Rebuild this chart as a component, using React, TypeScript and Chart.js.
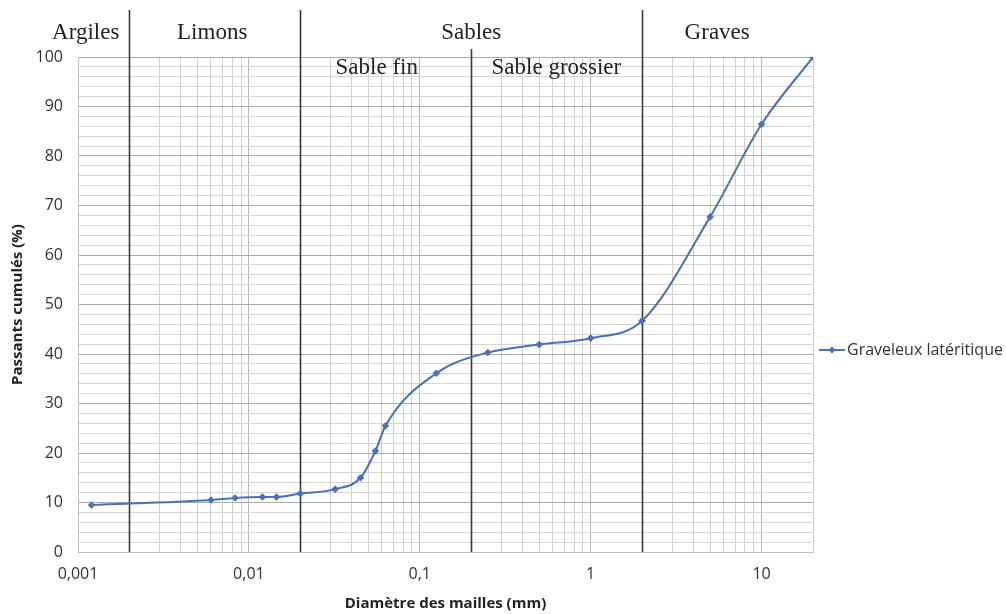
import React, { useEffect, useRef } from "react";
import { Chart, registerables } from "chart.js";

Chart.register(...registerables);

// ---- Data ----
const DIAMETERS = [0.0012, 0.006, 0.0083, 0.012, 0.0145, 0.02, 0.032, 0.045, 0.055, 0.063, 0.125, 0.25, 0.5, 1, 2, 5, 10, 20];
const PASSING = [9.5, 10.5, 10.9, 11.1, 11.1, 11.8, 12.7, 15.0, 20.4, 25.5, 36.1, 40.3, 41.9, 43.2, 46.7, 67.7, 86.4, 100];
const SERIES_NAME = "Graveleux latéritique";

const X_MIN = 0.001;
const X_MAX = 20;
const X_DECADES = [0.001, 0.01, 0.1, 1, 10];
const X_DECADE_LABELS = ["0,001", "0,01", "0,1", "1", "10"];
const X_MULTIPLIERS = [1, 2, 3, 4, 5, 6, 7, 8, 9];

const Y_MIN = 0;
const Y_MAX = 100;
const Y_MINOR_STEP = 2;
const Y_LABEL_STEP = 10;

const BOUNDARIES = [0.002, 0.02, 0.2, 2];
const BOUNDARY_SHORT = [false, false, true, false];
const ZONE_LABELS = ["Argiles", "Limons", "Sables", "Graves"];
const ZONE_LABEL_X = [0.00111, 0.0061, 0.2, 5.5];
const SUB_LABELS = ["Sable fin", "Sable grossier"];
const SUB_LABEL_X = [0.056, 0.63];

const X_TITLE = "Diamètre des mailles (mm)";
const Y_TITLE = "Passants cumulés (%)";

const LINE_COLOR = "#4a70b5";
const SANS = "'Open Sans', 'Noto Sans', sans-serif";
const SERIF = "'Liberation Serif', 'DejaVu Serif', serif";

const isDecade = (v: number) => Math.abs(Math.log10(v) - Math.round(Math.log10(v))) < 1e-9;

const annotationsPlugin = {
  id: "gradingAnnotations",
  beforeDatasetsDraw(chart: any) {
    const { ctx, chartArea, scales } = chart;
    const xs = scales.x;
    ctx.save();
    ctx.strokeStyle = "#3a3a3a";
    ctx.lineWidth = 1.6;
    BOUNDARIES.forEach((b, i) => {
      const px = Math.round(xs.getPixelForValue(b)) + 0.5;
      ctx.beginPath();
      ctx.moveTo(px, BOUNDARY_SHORT[i] ? chartArea.top - 8 : 10);
      ctx.lineTo(px, chartArea.bottom);
      ctx.stroke();
    });
    ctx.restore();
  },
  afterDraw(chart: any) {
    const { ctx, chartArea, scales } = chart;
    const xs = scales.x;
    ctx.save();
    ctx.fillStyle = "#222";
    ctx.textAlign = "center";
    ctx.textBaseline = "middle";
    ctx.font = `23px ${SERIF}`;
    ZONE_LABELS.forEach((t, i) => {
      ctx.fillText(t, xs.getPixelForValue(ZONE_LABEL_X[i]), 33);
    });
    SUB_LABELS.forEach((t, i) => {
      ctx.fillText(t, xs.getPixelForValue(SUB_LABEL_X[i]), 68);
    });

    // axis titles
    ctx.fillStyle = "#222";
    ctx.font = `bold 15px ${SANS}`;
    ctx.fillText(X_TITLE, (chartArea.left + chartArea.right) / 2, 604);
    ctx.save();
    ctx.translate(18, (chartArea.top + chartArea.bottom) / 2);
    ctx.rotate(-Math.PI / 2);
    ctx.fillText(Y_TITLE, 0, 0);
    ctx.restore();

    // legend
    const ly = 350;
    const lx0 = chartArea.right + 6;
    ctx.strokeStyle = LINE_COLOR;
    ctx.lineWidth = 2;
    ctx.beginPath();
    ctx.moveTo(lx0, ly);
    ctx.lineTo(lx0 + 26, ly);
    ctx.stroke();
    ctx.fillStyle = LINE_COLOR;
    ctx.beginPath();
    const cx = lx0 + 13;
    ctx.moveTo(cx, ly - 3.5);
    ctx.lineTo(cx + 3.5, ly);
    ctx.lineTo(cx, ly + 3.5);
    ctx.lineTo(cx - 3.5, ly);
    ctx.closePath();
    ctx.fill();
    ctx.fillStyle = "#333";
    ctx.textAlign = "left";
    ctx.font = `16px ${SANS}`;
    ctx.fillText(SERIES_NAME, lx0 + 28, ly);
    ctx.restore();
  },
};

export default function App() {
  const canvasRef = useRef<HTMLCanvasElement | null>(null);

  useEffect(() => {
    if (!canvasRef.current) return;
    const chart = new Chart(canvasRef.current, {
      type: "line",
      data: {
        datasets: [
          {
            label: SERIES_NAME,
            data: DIAMETERS.map((d, i) => ({ x: d, y: PASSING[i] })),
            borderColor: LINE_COLOR,
            backgroundColor: LINE_COLOR,
            borderWidth: 2,
            pointStyle: "rectRot",
            pointRadius: 3.8,
            pointBorderWidth: 0,
            pointBackgroundColor: LINE_COLOR,
            cubicInterpolationMode: "monotone",
            fill: false,
          },
        ],
      },
      options: {
        animation: false,
        responsive: false,
        devicePixelRatio: 1,
        layout: { padding: { left: 0, top: 57, right: 193, bottom: 0 } },
        plugins: {
          legend: { display: false },
          tooltip: { enabled: false },
        },
        scales: {
          x: {
            type: "logarithmic",
            min: X_MIN,
            max: X_MAX,
            afterBuildTicks: (scale: any) => {
              const ticks: any[] = [];
              X_DECADES.forEach((d) => {
                X_MULTIPLIERS.forEach((m) => {
                  const v = +(d * m).toPrecision(6);
                  if (v >= X_MIN && v <= X_MAX) ticks.push({ value: v });
                });
              });
              scale.ticks = ticks;
            },
            afterFit: (scale: any) => {
              scale.height = 62;
              scale.paddingLeft = 0;
              scale.paddingRight = 0;
            },
            ticks: {
              autoSkip: false,
              maxRotation: 0,
              minRotation: 0,
              padding: 13,
              color: "#333",
              font: { family: SANS, size: 16 },
              callback: (v: any) => {
                const idx = X_DECADES.findIndex((d) => Math.abs(d - Number(v)) < 1e-12);
                return idx >= 0 ? X_DECADE_LABELS[idx] : "";
              },
            },
            grid: {
              drawTicks: false,
              color: (c: any) => (c.tick && isDecade(c.tick.value) ? "#b8b8b8" : "#d0d0d0"),
              lineWidth: 1,
            },
            border: { color: "#bfbfbf" },
          },
          y: {
            type: "linear",
            min: Y_MIN,
            max: Y_MAX,
            afterFit: (scale: any) => {
              scale.width = 78;
            },
            ticks: {
              stepSize: Y_MINOR_STEP,
              autoSkip: false,
              padding: 15,
              color: "#333",
              font: { family: SANS, size: 16 },
              callback: (v: any) => (Number(v) % Y_LABEL_STEP === 0 ? String(v) : ""),
            },
            grid: {
              drawTicks: false,
              color: (c: any) => (c.tick && c.tick.value % Y_LABEL_STEP === 0 ? "#ababab" : "#d6d6d6"),
              lineWidth: 1,
            },
            border: { color: "#bfbfbf" },
          },
        },
      },
      plugins: [annotationsPlugin],
    } as any);
    return () => chart.destroy();
  }, []);

  return (
    <div style={{ position: "fixed", left: 0, top: 0, width: 1006, height: 614, background: "#fff" }}>
      <canvas ref={canvasRef} width={1006} height={614} />
    </div>
  );
}
